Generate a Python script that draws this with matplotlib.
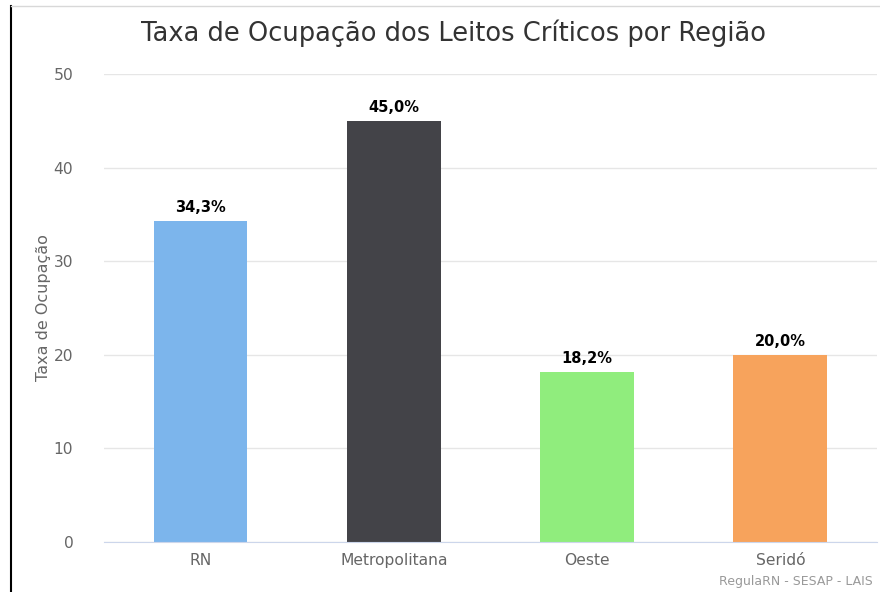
import matplotlib
matplotlib.use("Agg")
import matplotlib.pyplot as plt
from matplotlib.lines import Line2D

# Data
regioes = ["RN", "Metropolitana", "Oeste", "Seridó"]
taxas = [34.3, 45.0, 18.2, 20.0]
cores = ["#7cb5ec", "#434348", "#90ed7d", "#f7a35c"]
rotulos = ["34,3%", "45,0%", "18,2%", "20,0%"]
yticks = [0, 10, 20, 30, 40, 50]

plt.rcParams['font.family'] = ['DejaVu Sans']

fig = plt.figure(figsize=(8.8, 5.92), dpi=100)
ax = fig.add_axes([0.118, 0.0845, 0.8786, 0.7905])

x = range(len(regioes))
ax.bar(x, taxas, width=0.485, color=cores, zorder=3)
for i, (v, lab) in enumerate(zip(taxas, rotulos)):
    ax.annotate(lab, (i, v), xytext=(0, 4), textcoords="offset points",
                ha="center", va="bottom", fontsize=10.5, fontweight="bold",
                color="#000000", zorder=4)

ax.set_xlim(-0.5, len(regioes) - 0.5)
ax.set_ylim(0, 50)
ax.set_yticks(yticks)
ax.set_xticks(list(x))
ax.set_xticklabels(regioes)
ax.grid(axis="y", color="#e6e6e6", linewidth=1, zorder=0)
for s in ["top", "right", "left"]:
    ax.spines[s].set_visible(False)
ax.spines["bottom"].set_color("#ccd6eb")
ax.spines["bottom"].set_zorder(5)
ax.tick_params(axis="both", length=0, labelsize=11.2, labelcolor="#666666")
ax.tick_params(axis="y", pad=22)
ax.tick_params(axis="x", pad=8)
ax.set_ylabel("Taxa de Ocupação", fontsize=11.5, color="#666666", labelpad=2)

fig.text(0.515, 0.943, "Taxa de Ocupação dos Leitos Críticos por Região",
         ha="center", va="center", fontsize=18.5, color="#333333")
fig.text(0.992, 0.006, "RegulaRN - SESAP - LAIS", ha="right", va="bottom",
         fontsize=9, color="#999999")

# frame lines at left and top
fig.add_artist(Line2D([0.0125, 0.0125], [0, 0.99], color="black", linewidth=1.5,
                      transform=fig.transFigure))
fig.add_artist(Line2D([0.0125, 1.0], [0.99, 0.99], color="#d8d8d8", linewidth=1,
                      transform=fig.transFigure))

fig.savefig("out.png", dpi=100)
